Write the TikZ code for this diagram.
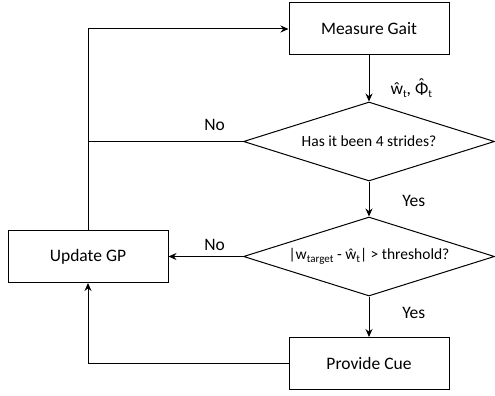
\documentclass[tikz,border=0pt]{standalone}
\usepackage{fontspec}
\setmainfont{Carlito}
\usetikzlibrary{shapes.geometric,arrows.meta}
\newcommand\mysub[1]{\raisebox{-0.35ex}{\fontsize{11}{12}\selectfont #1}}
\newcommand\myhatphi{{\accent"02C6 Φ}}
\begin{document}
\begin{tikzpicture}[x=1pt,y=-1pt, font=\fontsize{17.5}{20}\selectfont, line width=1pt,
 box/.style={draw, rectangle, minimum width=160pt, minimum height=52pt, inner sep=0pt},
 dec/.style={draw, diamond, aspect=3.18, minimum width=251pt, minimum height=79pt, inner sep=0pt, font=\fontsize{15.5}{18}\selectfont},
 arr/.style={-{Stealth[length=8pt,width=7pt]}},
 lbl/.style={inner sep=0pt}]
\useasboundingbox (0,0) rectangle (495,396);
\node[box] (measure) at (369,29) {Measure Gait};
\node[dec] (d1) at (369,141.5) {Has it been 4 strides?};
\node[dec] (d2) at (369,256.5) {|w\mysub{target} - ŵ\mysub{t}| > threshold?};
\node[box] (update) at (88,256.5) {Update GP};
\node[box] (cue) at (369,363.5) {Provide Cue};
\draw[arr] (measure) -- (d1);
\draw[arr] (d1) -- (d2);
\draw[arr] (d2) -- (cue);
\draw[arr] (d2) -- (update);
\draw[arr] (update.north) |- (measure.west);
\draw (d1.west) -- (d1.west -| update.north);
\draw[arr] (cue.west) -| (update.south);
\node[lbl, anchor=west] (wlab) at (390,88) {ŵ\mysub{t}, \myhatphi\mysub{t}};
\node[lbl] (no1) at (214.7,125) {No};
\node[lbl] (no2) at (214.7,245) {No};
\node[lbl] (yes1) at (413.8,201) {Yes};
\node[lbl] (yes2) at (413.8,313) {Yes};
\end{tikzpicture}
\end{document}
